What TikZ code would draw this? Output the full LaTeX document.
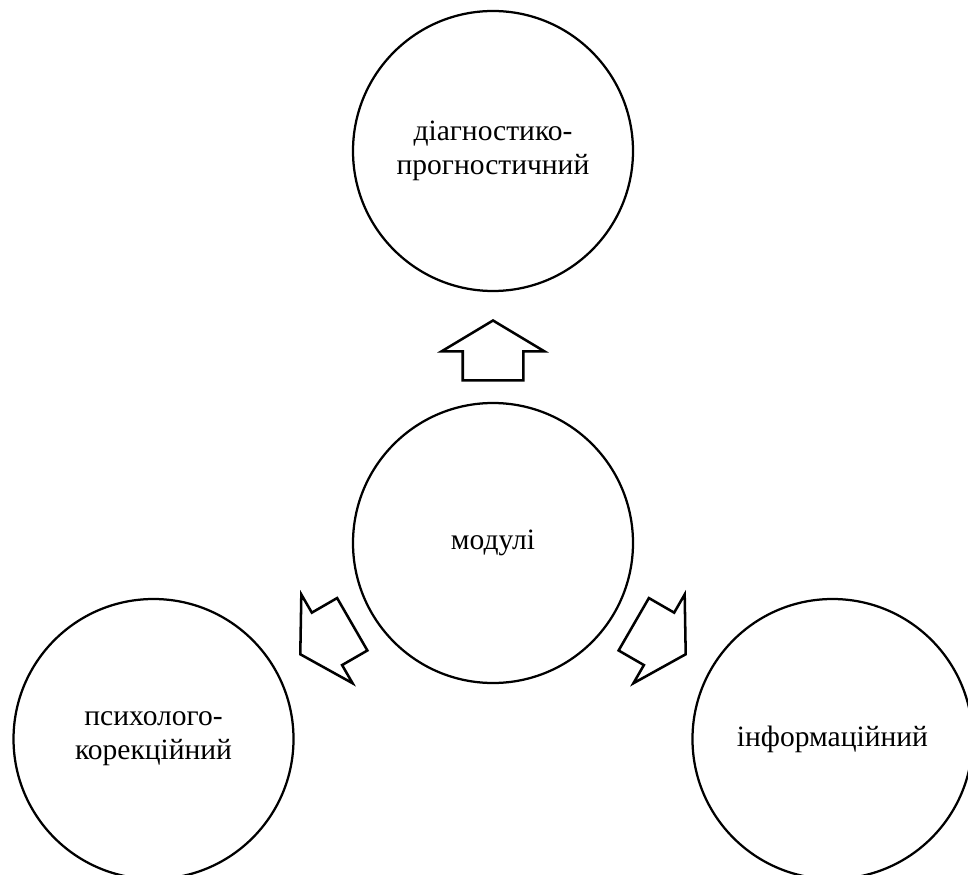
\documentclass[tikz,border=0pt]{standalone}
\usepackage{fontspec}
\setmainfont{Liberation Serif}
\usetikzlibrary{positioning,shapes.arrows}

\begin{document}
\begin{tikzpicture}[modul/.style={draw,circle,line width=1.6pt,minimum size=7cm,inner sep=0pt,align=center,font=\fontsize{21}{24}\selectfont},
  blockarr/.style={draw,single arrow,line width=1.8pt,minimum height=1.5cm,minimum width=2.5cm,single arrow head extend=0.525cm,single arrow tip angle=118,inner xsep=0pt,inner ysep=0.725cm,anchor=tip}]
  \useasboundingbox (-12.325,-8.275) rectangle (11.875,13.575);

  \node[modul] (centr) at (0,0) {модулі};
  \node[modul] (diag) at (90:9.8) {діагностико-\\прогностичний};
  \node[modul] (psych) at (210:9.8) {психолого-\\корекційний};
  \node[modul] (inform) at (330:9.8) {інформаційний};

  \node[blockarr,rotate=90] (arrdiag) at (90:5.6) {};
  \node[blockarr,rotate=210] (arrpsych) at (210:5.6) {};
  \node[blockarr,rotate=330] (arrinform) at (330:5.6) {};
\end{tikzpicture}
\end{document}
